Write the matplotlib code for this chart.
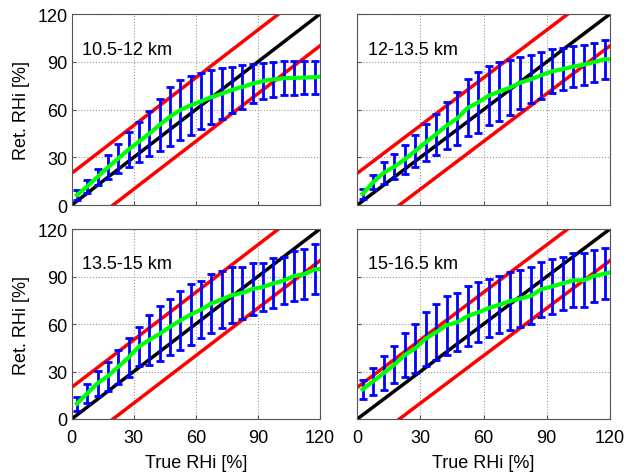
import numpy as np
import matplotlib
matplotlib.use('Agg')
from matplotlib import pyplot as plt

plt.rcParams['font.family'] = ['Liberation Sans', 'DejaVu Sans']

# bin centres of true RHi [%]
true_rhi = [2.5, 7.5, 12.5, 17.5, 22.5, 27.5, 32.5, 37.5, 42.5, 47.5, 52.5, 57.5,
            62.5, 67.5, 72.5, 77.5, 82.5, 87.5, 92.5, 97.5, 102.5, 107.5, 112.5, 117.5]

titles = ['10.5-12 km', '12-13.5 km', '13.5-15 km', '15-16.5 km']

# upper / lower ends of the error bars
top_1 = [9.4, 15.7, 22.9, 31.2, 38.6, 45.9, 52.4, 58.9, 66.7, 74.0, 78.4, 81.1,
         82.8, 84.9, 86.0, 87.0, 87.8, 88.7, 89.5, 89.9, 90.4, 90.6, 90.6, 90.6]
bot_1 = [3.1, 7.8, 12.4, 16.1, 19.9, 23.9, 27.3, 30.8, 34.0, 37.1, 41.1, 44.2,
         47.6, 50.7, 53.9, 57.7, 60.6, 63.9, 66.5, 67.9, 69.0, 69.2, 69.6, 70.0]

top_2 = [10.3, 18.7, 27.0, 31.9, 37.7, 43.8, 51.2, 57.4, 65.0, 71.1, 79.0, 83.6,
         87.4, 90.0, 91.2, 93.3, 94.1, 96.4, 97.9, 98.5, 100.0, 100.6, 102.1, 103.8]
bot_2 = [3.6, 9.9, 13.4, 16.1, 19.5, 24.1, 27.5, 31.7, 35.0, 37.9, 43.2, 45.5,
         50.1, 52.6, 56.4, 60.6, 63.9, 66.9, 70.2, 72.3, 74.0, 75.7, 77.6, 79.5]

top_3 = [14.1, 22.3, 30.5, 36.2, 43.8, 51.4, 58.3, 65.7, 71.2, 75.8, 80.8, 85.1,
         87.2, 91.6, 93.7, 96.2, 96.2, 98.5, 98.5, 101.5, 102.3, 106.3, 107.4, 110.3]
bot_3 = [5.3, 9.9, 14.7, 17.9, 22.1, 26.3, 33.3, 34.1, 36.4, 40.6, 43.6, 46.9,
         50.9, 54.3, 57.3, 60.4, 63.2, 65.9, 68.2, 69.9, 72.6, 74.3, 75.6, 78.7]

top_4 = [24.8, 32.4, 39.6, 45.9, 54.5, 59.8, 67.8, 72.4, 77.9, 79.6, 83.8, 86.3,
         88.4, 90.1, 92.6, 94.3, 95.8, 99.4, 101.1, 102.1, 104.6, 104.6, 106.7, 107.8]
bot_4 = [12.6, 15.2, 18.3, 22.5, 26.3, 29.3, 33.7, 37.3, 40.6, 42.7, 46.3, 48.4,
         51.8, 54.3, 56.2, 57.9, 59.8, 64.6, 66.3, 69.1, 70.5, 70.5, 74.1, 75.6]

# green curve value at the right edge (x = 120)
green_end = [80.7, 91.6, 94.7, 92.6]

tops = [top_1, top_2, top_3, top_4]
bots = [bot_1, bot_2, bot_3, bot_4]

ticks = [0, 30, 60, 90, 120]

fig = plt.figure(figsize=(6.3, 4.77), dpi=100)
# [left, bottom, width, height] in figure fraction
positions = [[0.1138, 0.568, 0.394, 0.4004],
             [0.5671, 0.568, 0.401, 0.4004],
             [0.1138, 0.1195, 0.394, 0.3983],
             [0.5671, 0.1195, 0.401, 0.3983]]

line = np.array([0, 120])
for i in range(4):
    ax = fig.add_axes(positions[i])
    top = np.array(tops[i])
    bot = np.array(bots[i])
    mean = (top + bot) / 2
    err = (top - bot) / 2

    ax.plot(line, line + 20, color='red', lw=2.5, zorder=2)
    ax.plot(line, line - 20, color='red', lw=2.5, zorder=2)
    ax.plot(line, line, color='black', lw=2.5, zorder=2)
    ax.errorbar(true_rhi, mean, yerr=err, fmt='none', ecolor='blue',
                elinewidth=2, capsize=2.7, capthick=2, zorder=3)
    gx = list(true_rhi) + [120]
    gy = list(mean) + [green_end[i]]
    ax.plot(gx, gy, color=(0, 1, 0), lw=3, zorder=4)

    ax.set_xlim(0, 120)
    ax.set_ylim(0, 120)
    ax.set_xticks(ticks)
    ax.set_yticks(ticks)
    ax.grid(True, linestyle=':', color='#999999', lw=0.8)
    ax.tick_params(direction='in', length=3, labelsize=13, color='#555555')
    ax.tick_params(axis='x', pad=7)
    ax.tick_params(axis='y', pad=3)
    for sp in ax.spines.values():
        sp.set_color('#555555')
    ax.text(5, 98, titles[i], fontsize=13, va='center', ha='left')

    if i % 2 == 0:
        ax.set_ylabel('Ret. RHi [%]', fontsize=13, labelpad=5)
    if i >= 2:
        ax.set_xlabel('True RHi [%]', fontsize=13, labelpad=6)
    else:
        ax.set_xticklabels([])
    if i % 2 == 1:
        ax.set_yticklabels([])

fig.savefig('out.png', dpi=100)
